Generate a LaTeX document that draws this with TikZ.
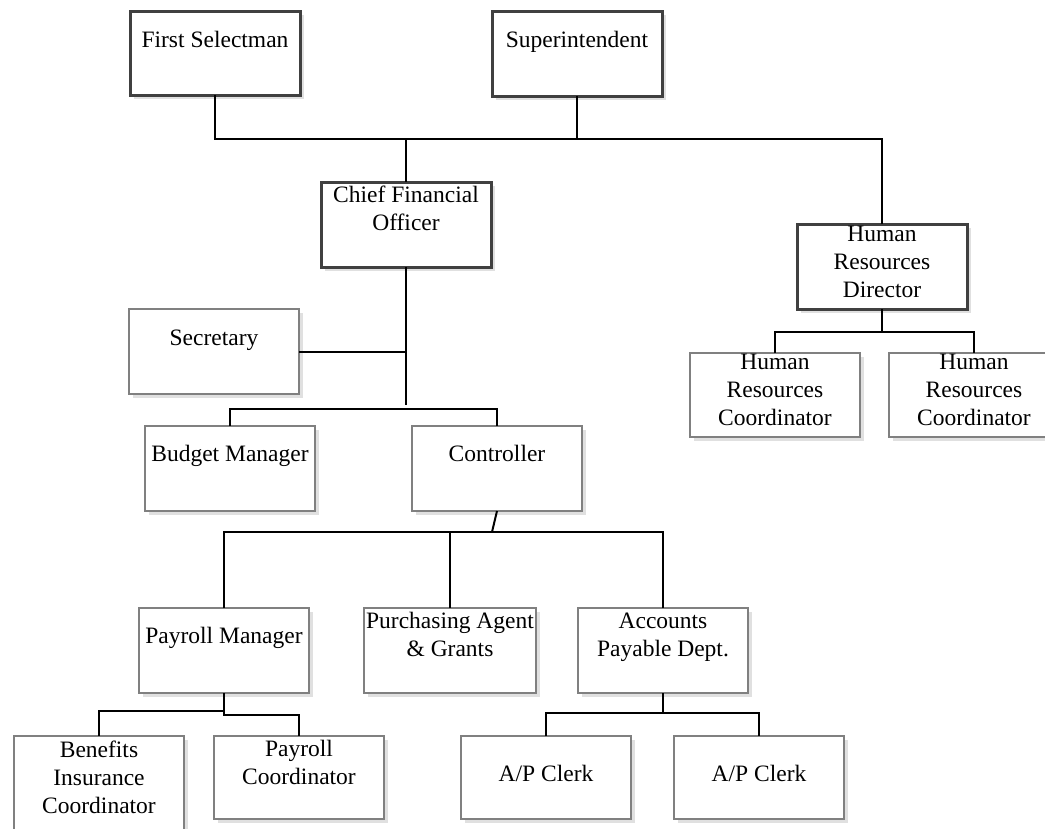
\documentclass[tikz,border=0pt]{standalone}
\usepackage{fontspec}
\setmainfont{Liberation Serif}
\usetikzlibrary{shadows}
\begin{document}
\begin{tikzpicture}[x=1pt,y=-1pt,
  unit/.style={rectangle, fill=white, inner sep=0pt, outer sep=0pt, anchor=north west,
    minimum width=170pt, drop shadow={shadow xshift=3.5pt, shadow yshift=-3.5pt, opacity=1, fill=black!12}},
  head/.style={unit, draw=black!75, line width=3pt},
  staff/.style={unit, draw=black!50, line width=1.3pt},
  jobtext/.style={font=\fontsize{23.5}{28}\selectfont, align=center, inner sep=0pt, anchor=base},
  link/.style={draw=black, line width=2pt}
]
\useasboundingbox (0,0) rectangle (1045,828);

% ---- boxes ----
\node[head,  minimum height=84pt] (fs)   at (130,11)  {};
\node[head,  minimum height=85pt] (sup)  at (492,11)  {};
\node[head,  minimum height=85pt] (cfo)  at (321,182) {};
\node[head,  minimum height=85pt] (hrd)  at (797,224) {};
\node[staff, minimum height=85pt] (sec)  at (129,309) {};
\node[staff, minimum height=85pt] (bud)  at (145,426) {};
\node[staff, minimum height=85pt] (ctl)  at (412,426) {};
\node[staff, minimum height=84pt] (hrc1) at (690,353) {};
\node[staff, minimum height=84pt] (hrc2) at (889,353) {};
\node[staff, minimum height=85pt] (pm)   at (139,608) {};
\node[staff, minimum width=172pt, minimum height=85pt] (pur) at (364,608) {};
\node[staff, minimum height=85pt] (ap)   at (578,608) {};
\node[staff, minimum height=110pt] (ben) at (14,736)  {};
\node[staff, minimum height=83pt] (pc)   at (214,736) {};
\node[staff, minimum height=83pt] (apc1) at (461,736) {};
\node[staff, minimum height=83pt] (apc2) at (674,736) {};

% ---- titles (anchor base = baseline of the last line) ----
\node[jobtext] (fsT)   at ([yshift=-36pt]fs.north)   {First Selectman};
\node[jobtext] (supT)  at ([yshift=-36pt]sup.north)  {Superintendent};
\node[jobtext] (cfoT)  at ([yshift=-48pt]cfo.north)  {Chief Financial\\Officer};
\node[jobtext] (hrdT)  at ([yshift=-73pt]hrd.north)  {Human\\Resources\\Director};
\node[jobtext] (secT)  at ([yshift=-36pt]sec.north)  {Secretary};
\node[jobtext] (budT)  at ([yshift=-35pt]bud.north)  {Budget Manager};
\node[jobtext] (ctlT)  at ([yshift=-35pt]ctl.north)  {Controller};
\node[jobtext] (hrc1T) at ([yshift=-72pt]hrc1.north) {Human\\Resources\\Coordinator};
\node[jobtext] (hrc2T) at ([yshift=-72pt]hrc2.north) {Human\\Resources\\Coordinator};
\node[jobtext] (pmT)   at ([yshift=-35pt]pm.north)   {Payroll Manager};
\node[jobtext] (purT)  at ([yshift=-48pt]pur.north)  {Purchasing Agent\\\& Grants};
\node[jobtext] (apT)   at ([yshift=-48pt]ap.north)   {Accounts\\Payable Dept.};
\node[jobtext] (benT)  at ([yshift=-77pt]ben.north)  {Benefits\\Insurance\\Coordinator};
\node[jobtext] (pcT)   at ([yshift=-48pt]pc.north)   {Payroll\\Coordinator};
\node[jobtext] (apc1T) at ([yshift=-45pt]apc1.north) {A/P Clerk};
\node[jobtext] (apc2T) at ([yshift=-45pt]apc2.north) {A/P Clerk};

% ---- junction points ----
\coordinate (top)  at (406,139);
\coordinate (cfoend) at (406,405);
\coordinate (br1)  at (406,409);
\coordinate (br2)  at (492,532);
\coordinate (br3)  at (224,715);
\coordinate (br3l) at (224,711);
\coordinate (br4)  at (663,713);
\coordinate (br5)  at (882,332);

% ---- connectors ----
\draw[link] (fs.south) -- (fs.south |- top) -| (hrd.north);
\draw[link] (sup.south) -- (sup.south |- top);
\draw[link] (top) -- (cfo.north);
\draw[link] (cfo.south) -- (cfoend);
\draw[link] (sec.east) -- (sec.east -| cfo.south);
\draw[link] (bud.north) -- (bud.north |- br1) -- (ctl.north |- br1) -- (ctl.north);
\draw[link] (ctl.south) -- (br2);
\draw[link] (pm.north) -- (pm.north |- br2) -- (ap.north |- br2) -- (ap.north);
\draw[link] (pur.north) -- (pur.north |- br2);
\draw[link] (pm.south) -- (br3) -| (pc.north);
\draw[link] (br3l) -| (ben.north);
\draw[link] (ap.south) -- (br4);
\draw[link] (apc1.north) |- (br4) -| (apc2.north);
\draw[link] (hrd.south) -- (br5);
\draw[link] (hrc1.north) |- (br5) -| (hrc2.north);
\end{tikzpicture}
\end{document}
